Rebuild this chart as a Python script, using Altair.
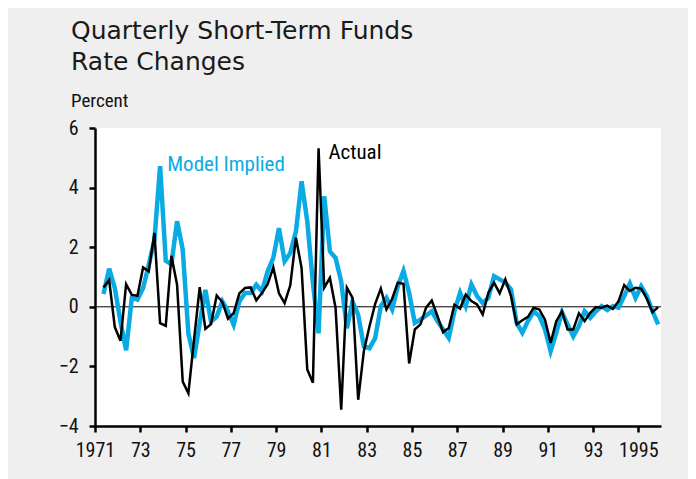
import altair as alt
import pandas as pd

# ---- data ----
start_year = 1971
start_quarter = 2  # first observation 1971Q2, last 1995Q4

actual = [0.65, 0.90, -0.68, -1.14, 0.76, 0.40, 0.37, 1.32, 1.19, 2.48,
          -0.55, -0.64, 1.71, 0.74, -2.51, -2.90, -1.10, 0.66, -0.74, -0.58,
          0.38, 0.16, -0.40, -0.21, 0.45, 0.63, 0.65, 0.22, 0.46, 0.76,
          1.32, 0.45, 0.12, 0.72, 2.32, 1.30, -2.10, -2.55, 5.32, 0.64,
          0.97, -0.03, -3.45, 0.64, 0.30, -3.12, -1.49, -0.65, 0.10, 0.61,
          -0.09, 0.27, 0.81, 0.77, -1.90, -0.76, -0.59, -0.03, 0.21, -0.31,
          -0.85, -0.71, 0.07, -0.06, 0.41, 0.19, 0.08, -0.26, 0.47, 0.81,
          0.45, 0.92, 0.36, -0.59, -0.45, -0.34, -0.03, -0.09, -0.43, -1.21,
          -0.48, -0.15, -0.76, -0.76, -0.22, -0.48, -0.20, -0.01, -0.03, 0.04,
          -0.07, 0.19, 0.73, 0.53, 0.64, 0.61, 0.27, -0.18, -0.01]

model = [0.43, 1.28, 0.63, -0.50, -1.46, 0.29, 0.24, 0.63, 1.41, 2.25,
         4.72, 1.55, 1.43, 2.87, 1.92, -0.90, -1.72, -0.55, 0.57, -0.49,
         -0.33, 0.18, -0.16, -0.60, 0.18, 0.46, 0.46, 0.74, 0.52, 1.19,
         1.64, 2.64, 1.53, 1.80, 2.53, 4.21, 2.87, 0.80, -0.89, 3.71,
         1.86, 1.64, 0.85, -0.72, 0.18, -0.27, -1.33, -1.39, -1.05, 0.02,
         0.30, -0.09, 0.69, 1.20, 0.47, -0.54, -0.43, -0.29, -0.15, -0.48,
         -0.76, -1.04, -0.15, 0.47, 0.02, 0.75, 0.36, 0.13, 0.30, 1.03,
         0.92, 0.81, 0.58, -0.54, -0.87, -0.48, -0.15, -0.31, -0.76, -1.49,
         -0.87, -0.18, -0.59, -0.99, -0.65, -0.15, -0.37, -0.15, 0.02, -0.11,
         0.02, -0.03, 0.36, 0.78, 0.30, 0.69, 0.36, -0.15, -0.59]

year_ticks = list(range(1971, 1997))
y_ticks = [-4, -2, 0, 2, 4, 6]

series_labels = ["Model Implied", "Actual"]
label_x = [1974.19, 1981.31]
label_y = [4.55, 4.95]

title_lines = ["Quarterly Short-Term Funds", "Rate Changes"]
unit_label = "Percent"

BLUE = "#0AABE4"
BLACK = "#000000"
NARROW = "Roboto Condensed, Liberation Sans, sans-serif"

# ---- build table ----
quarters, xdec = [], []
for i in range(len(actual)):
    q = start_quarter - 1 + i
    yr = start_year + q // 4
    qq = q % 4 + 1
    quarters.append(f"{yr}Q{qq}")
    xdec.append(yr + (qq - 0.5) / 4)

df = pd.DataFrame({"quarter": quarters, "t": xdec, "actual": actual, "model": model})
lab_df = pd.DataFrame({"label": series_labels, "t": label_x, "v": label_y,
                       "c": [BLUE, BLACK]})
one = pd.DataFrame({"k": [0]})
zero_df = pd.DataFrame({"v": [0]})

xscale = alt.Scale(domain=[1971, 1996], nice=False, zero=False)
yscale = alt.Scale(domain=[-4, 6], nice=False, zero=False)

xaxis = alt.Axis(
    values=year_ticks, title="", grid=False,
    labelExpr="datum.value == 1971 || datum.value == 1995 ? '' + datum.value : "
              "(datum.value % 2 == 1 ? substring('' + datum.value, 2) : '')",
    labelOverlap=False, labelFlush=False, labelPadding=8,
    tickSize=6, tickWidth=2.5, tickColor=BLACK,
    domainColor=BLACK, domainWidth=2.5,
    labelFont=NARROW, labelFontSize=20, labelColor="#111111",
)
yaxis = alt.Axis(
    values=y_ticks, title="", grid=False, labelPadding=11,
    tickSize=6, tickWidth=2.5, tickColor=BLACK,
    domainColor=BLACK, domainWidth=2.5,
    labelFont=NARROW, labelFontSize=20, labelColor="#111111",
)

base = alt.Chart(df)

zero_rule = alt.Chart(zero_df).mark_rule(color=BLACK, strokeWidth=1).encode(
    y=alt.Y("v:Q", scale=yscale, axis=yaxis)
)

model_line = base.mark_line(color=BLUE, strokeWidth=4.5).encode(
    x=alt.X("t:Q", scale=xscale, axis=xaxis),
    y=alt.Y("model:Q", scale=yscale, axis=yaxis),
)
actual_line = base.mark_line(color=BLACK, strokeWidth=2.5).encode(
    x=alt.X("t:Q", scale=xscale, axis=xaxis),
    y=alt.Y("actual:Q", scale=yscale, axis=yaxis),
)

labels = alt.Chart(lab_df).mark_text(
    align="left", baseline="alphabetic", font=NARROW, fontSize=21
).encode(
    x=alt.X("t:Q", scale=xscale),
    y=alt.Y("v:Q", scale=yscale),
    text="label:N",
    color=alt.Color("c:N", scale=None, legend=None),
)

t1 = alt.Chart(one).mark_text(
    align="left", baseline="alphabetic", font="DejaVu Sans", fontSize=25,
    color="#1a1a1a", text=title_lines[0]
).encode(x=alt.value(-24), y=alt.value(-89))
t2 = alt.Chart(one).mark_text(
    align="left", baseline="alphabetic", font="DejaVu Sans", fontSize=25,
    color="#1a1a1a", text=title_lines[1]
).encode(x=alt.value(-24), y=alt.value(-58))
t3 = alt.Chart(one).mark_text(
    align="left", baseline="alphabetic", font=NARROW, fontSize=19,
    color="#111111", text=unit_label
).encode(x=alt.value(-24), y=alt.value(-21))

chart = alt.layer(zero_rule, model_line, actual_line, labels, t1, t2, t3).properties(
    width=566, height=298,
    background="#efefef",
    padding={"left": 87, "top": 120, "right": 27, "bottom": 53},
    autosize=alt.AutoSizeParams(type="none"),
).configure_view(fill="white", stroke="white", strokeWidth=0)

chart.save("out.html", embed_options={"renderer": "svg", "actions": False})
